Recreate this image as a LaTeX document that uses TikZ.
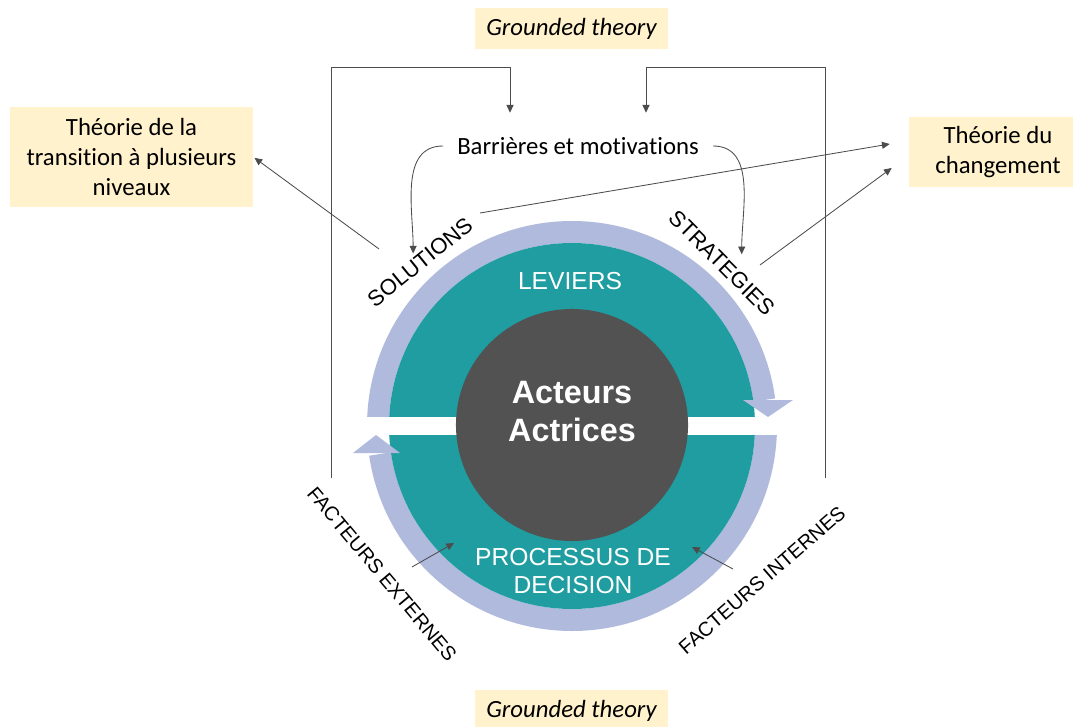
\documentclass[tikz,border=0pt]{standalone}
\usepackage{fontspec}
\setmainfont{Carlito}[Ligatures=NoCommon]
\newfontfamily\arialfont{Liberation Sans}
\usetikzlibrary{positioning,arrows.meta,calc}

\definecolor{boxyellow}{RGB}{255,242,204}
\definecolor{ringteal}{RGB}{31,157,160}
\definecolor{ringlav}{RGB}{175,186,221}
\definecolor{coredark}{RGB}{82,82,82}

\begin{document}
\begin{tikzpicture}[
  x=0.025cm,y=0.025cm,
  theo/.style={fill=boxyellow,align=center,inner sep=0pt,font=\fontsize{17.6}{21.3}\selectfont},
  ringlbl/.style={font=\arialfont\fontsize{15.7}{18}\selectfont,inner sep=2pt},
  facteur/.style={font=\arialfont\fontsize{14.2}{17}\selectfont,inner sep=2pt},
  inlbl/.style={text=white,align=center,font=\arialfont\fontsize{17.5}{20}\selectfont},
  conn/.style={-{Triangle[length=5.5pt,width=5pt]},black!70,line width=0.6pt},
  band/.style={ringlav,line width=0.55cm},
]
\useasboundingbox (0,0) rectangle (1073,726);

% === Cycle (ring, halves, core) ===
\coordinate (C) at (572,300);
\draw[band] (C) ++(180:194) arc[start angle=180,end angle=7.7,radius=194];
\draw[band] (C) ++(0:194) arc[start angle=0,end angle=-171.7,radius=194];
\fill[ringteal] (C) circle[radius=183];
\fill[white] (C) ++(-230,-9) rectangle ++(460,18);
\fill[ringlav] (C) ++(171,26) -- ++(50,0) -- ++(-25,-17) -- cycle;
\fill[ringlav] (C) ++(-219,-27) -- ++(47,0) -- ++(-24,18) -- cycle;
\node[circle,fill=coredark,minimum size=5.8cm,inner sep=0pt] (core) at (572,301) {};

% === Labels inside ===
\node[text=white,align=center,font=\arialfont\bfseries\fontsize{23}{27}\selectfont] (actors) at (572,314) {Acteurs\\Actrices};
\node[inlbl] (lev) at (570,445) {LEVIERS};
\node[inlbl] (dec) at (573,155) {PROCESSUS DE\\DECISION};

% === Labels round the ring ===
\node[ringlbl,rotate=39] (sol) at (420,464) {SOLUTIONS};
\node[ringlbl,rotate=-45] (str) at (722,463) {STRATEGIES};
\node[facteur,rotate=-50] (ext) at (382,152) {FACTEURS EXTERNES};
\node[facteur,rotate=41] (int) at (762,146) {FACTEURS INTERNES};

% === Theory boxes ===
\node[theo,minimum width=4.825cm,minimum height=1.025cm] (gtTop) at (571.5,697.5) {\itshape Grounded theory};
\node[theo,minimum width=4.825cm,minimum height=1.025cm] (gtBot) at (571.5,15.5) {\itshape Grounded theory};
\node[theo,minimum width=6.075cm,minimum height=2.5cm] (trn) at (131.5,569) {Théorie de la\\transition à plusieurs\\niveaux};
\node[theo,minimum width=4.45cm,minimum height=1.75cm] (chg) at (998,574) {Théorie du\\changement};

% === Barriers ===
\node[font=\fontsize{17.6}{21.3}\selectfont,inner xsep=0.35cm,inner ysep=0pt,minimum height=1.65cm] (bar) at (578,580) {Barrières et motivations};

% === Connectors ===
\coordinate (extBase) at (331,248);
\coordinate (intBase) at (825,248);
\coordinate (solHi) at (480,513);
\coordinate (solLo) at (379,477);
\coordinate (strOut) at (760,461);
\coordinate (extTail) at (412,159);
\coordinate (extHead) at (454,183);
\coordinate (intTail) at (733,157);
\coordinate (intHead) at (692,179);

\draw[conn] (extBase) |- ($(bar.north)+(-68,45)$) -- ($(bar.north)+(-68,0)$);
\draw[conn] (intBase) |- ($(bar.north)+(68,45)$) -- ($(bar.north)+(68,0)$);
\draw[conn] (bar.west) to[out=180,in=90] (sol.north);
\draw[conn] (bar.east) to[out=0,in=90] ($(str.north)+(12,1)$);

\draw[conn] (solHi) -- ($(chg.west)+(-19,8)$);
\draw[conn] (strOut) -- ($(chg.west)+(-17,-16)$);
\draw[conn,shorten >=1pt] (solLo) -- (trn.east);

\draw[conn] (extTail) -- (extHead);
\draw[conn] (intTail) -- (intHead);

\end{tikzpicture}
\end{document}
